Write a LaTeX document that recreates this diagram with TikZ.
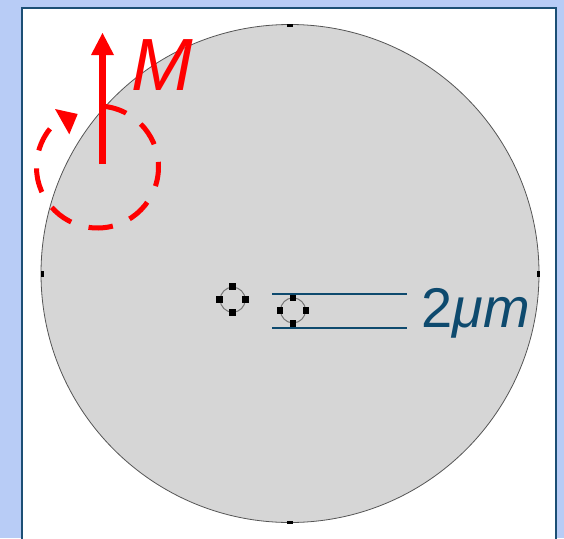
\documentclass[tikz,border=0pt]{standalone}
\usepackage{fontspec}
\setmainfont{Liberation Sans}
\definecolor{bgblue}{HTML}{B8CCF6}
\definecolor{frameblue}{HTML}{1C4F75}
\definecolor{scaleblue}{HTML}{0E4A6E}
\definecolor{disk}{HTML}{D6D6D6}
\definecolor{rimgray}{HTML}{555555}
\begin{document}
\begin{tikzpicture}[x=1pt,y=-1pt,
  handle/.style={fill=black,minimum width=6.5pt,minimum height=6.5pt,inner sep=0pt,draw=none,rectangle},
  tick/.style={fill=black,inner sep=0pt,draw=none,rectangle},
  marker/.style={draw=rimgray!80,line width=1pt},
  scaleline/.style={draw=scaleblue,line width=2pt},
  magarrow/.style={draw=red,line width=7pt},
  dashring/.style={draw=red,line width=5pt,dash pattern=on 24.5pt off 18.2pt}]
\useasboundingbox (0,0) rectangle (564,538);
\fill[bgblue] (0,0) rectangle (564,538);
\draw[frameblue,line width=2pt,fill=white] (22,8) rectangle (556,545);
% disk
\node[circle,draw=rimgray,fill=disk,line width=0.8pt,minimum size=498pt,inner sep=0pt] (disk) at (290,273.5) {};
\node[tick,minimum width=6pt,minimum height=3pt] (tn) at (290,25.5) {};
\node[tick,minimum width=6pt,minimum height=3pt] (ts) at (290,522) {};
\node[tick,minimum width=3pt,minimum height=6pt] (tw) at (42.5,273.5) {};
\node[tick,minimum width=3pt,minimum height=6pt] (te) at (538,273.5) {};
% markers
\node[circle,marker,minimum size=25pt,inner sep=0pt] (m1) at (232.7,299.7) {};
\foreach \a in {north,south,east,west} \node[handle] at (m1.\a) {};
\node[circle,marker,minimum size=25pt,inner sep=0pt] (m2) at (293,310.4) {};
\foreach \a in {north,south,east,west} \node[handle] at (m2.\a) {};
% scale lines
\coordinate (l1a) at (272,294.3); \coordinate (l1b) at (407,294.3);
\coordinate (l2a) at (272,327.7); \coordinate (l2b) at (407,327.7);
\draw[scaleline] (l1a) -- (l1b);
\draw[scaleline] (l2a) -- (l2b);
\node[anchor=base west,inner sep=0pt,text=scaleblue,font=\fontsize{56}{62}\selectfont] (lbl) at (421,327.5) {2\textit{μm}};
% magnetization
\coordinate (ma) at (102.5,164); \coordinate (mb) at (102.5,53);
\draw[magarrow] (ma) -- (mb);
\fill[red] (91,55) -- (114,55) -- (102.5,33) -- cycle;
\node[anchor=base west,inner sep=0pt,text=red,font=\fontsize{74}{80}\selectfont\itshape] (M) at (131,90) {M};
% dashed ring (y axis points down, so screen angles are negated)
\draw[dashring] (97.5,167) ++(-85:61) arc[start angle=-85,end angle=220,radius=61];
\fill[red] (55,109) -- (77.7,114) -- (69.3,134.3) -- cycle;
\end{tikzpicture}
\end{document}
